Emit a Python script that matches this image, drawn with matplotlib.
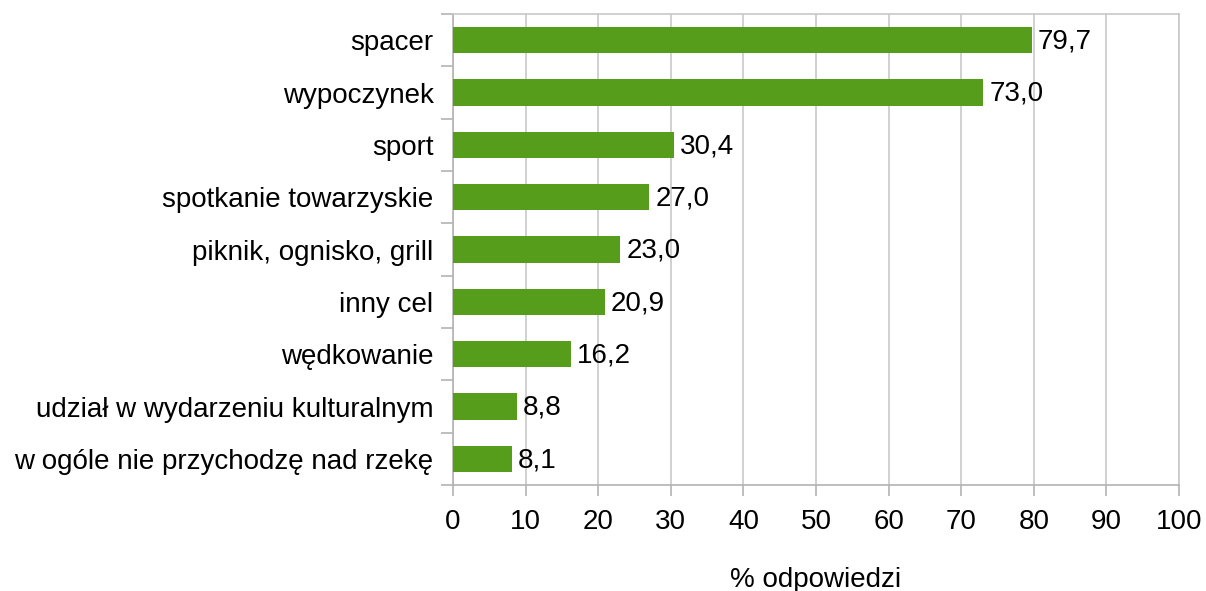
import matplotlib
matplotlib.use("Agg")
import matplotlib.pyplot as plt
import numpy as np

categories = ["spacer", "wypoczynek", "sport", "spotkanie towarzyskie",
              "piknik, ognisko, grill", "inny cel", "wędkowanie",
              "udział w wydarzeniu kulturalnym", "w ogóle nie przychodzę nad rzekę"]
values = [79.7, 73.0, 30.4, 27.0, 23.0, 20.9, 16.2, 8.8, 8.1]
xticks = [0, 10, 20, 30, 40, 50, 60, 70, 80, 90, 100]
xlabel = "% odpowiedzi"

plt.rcParams['font.family'] = ['Liberation Sans', 'DejaVu Sans']
FS = 20

fig = plt.figure(figsize=(12.06, 5.91), dpi=100)
ax = fig.add_axes([453/1206, 1-485/591, (1179-453)/1206, (485-14)/591])

n = len(categories)
y = np.arange(n)
ax.barh(y, values, height=0.5, color="#579d1c", zorder=3)
ax.set_ylim(n - 0.5, -0.5)
ax.set_xlim(0, 100)

for yi, v in zip(y, values):
    ax.annotate(f"{v:.1f}".replace(".", ","), (v, yi), xytext=(4.5, -1),
                textcoords="offset points", va="center", ha="left", fontsize=FS)

ax.set_yticks(y)
ax.set_yticklabels(categories, fontsize=FS)
ax.set_yticks(np.arange(n + 1) - 0.5, minor=True)
ax.tick_params(axis="y", which="major", length=0, pad=14)
ax.tick_params(axis="y", which="minor", length=9, color="#b3b3b3", width=1.2)

ax.set_xticks(xticks)
ax.set_xticklabels([str(t) for t in xticks], fontsize=FS)
ax.tick_params(axis="x", length=8, color="#b3b3b3", width=1.2, pad=9)
ax.set_xlabel(xlabel, fontsize=FS, labelpad=23)

ax.grid(axis="x", color="#c8c8c8", linewidth=1.2, zorder=0)
for s in ["top", "right", "bottom", "left"]:
    ax.spines[s].set_color("#b3b3b3")
    ax.spines[s].set_linewidth(1.2)
ax.spines["top"].set_color("#c8c8c8")
ax.spines["right"].set_color("#c8c8c8")

fig.savefig("out.png", dpi=100)
